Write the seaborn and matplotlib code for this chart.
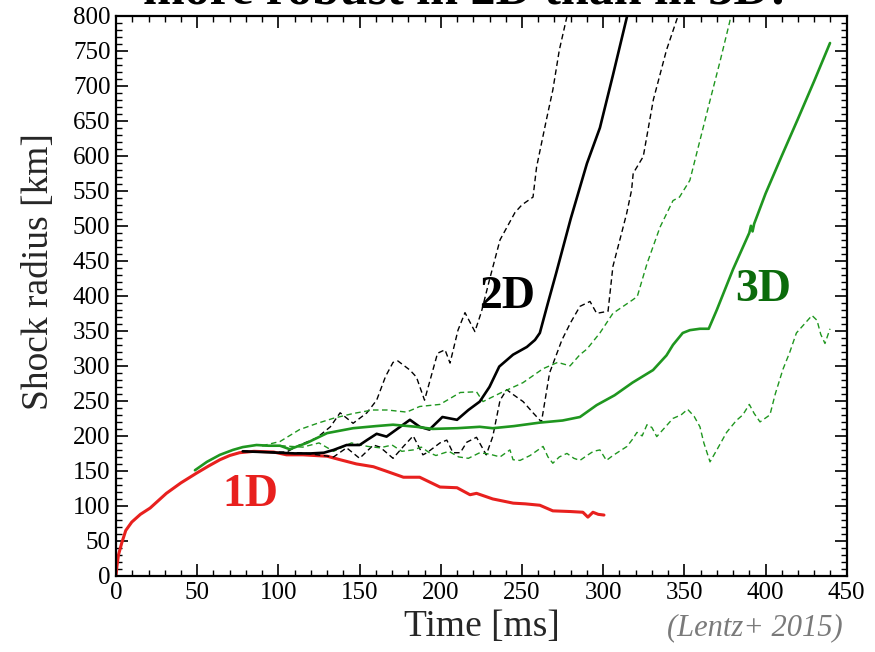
import matplotlib
matplotlib.use("Agg")
import matplotlib.pyplot as plt
from matplotlib.ticker import MultipleLocator
import seaborn as sns
import pandas as pd

# ---------------- data ----------------
t_1d = [0, 0.5, 1.5, 3.5, 6, 9.7, 15, 21, 31, 40, 49.7, 57, 64, 70, 76, 85, 97, 105, 115,
        130, 138, 148, 158.5, 166, 177, 187, 199.5, 210, 218, 222, 232, 244.6, 252, 261,
        269, 280, 287.5, 290.6, 293.7, 297, 300.5]
r_1d = [0, 13, 30, 47, 65, 77, 88, 97, 118, 133, 147, 157, 166, 172, 176, 178, 177, 173, 173,
        171, 166, 160, 156, 150, 141, 141, 127, 126, 116, 118, 110, 104, 103, 101,
        93, 92, 91, 84, 91, 88, 87]

t_2d = [78, 90, 100, 110, 120, 128, 134, 142, 150, 154.5, 160.5, 166.6, 175, 181, 187, 193,
        201, 210, 217, 224, 230, 236, 244.5, 253, 258, 261, 266, 271, 280, 290, 298, 306,
        314.5, 317]
r_2d = [178, 177, 176, 175, 175, 176, 180, 187, 187, 194, 203, 199, 213, 223, 213, 209,
        227, 223, 237, 249, 270, 299, 316, 327, 337, 347, 390, 432, 510, 589, 640, 715,
        797, 830]

t_2d_a = [78, 95, 105, 113, 123.5, 132, 138, 146, 154.5, 160.5, 166, 170.6, 173.6, 181, 185,
          190, 198, 202.6, 205.7, 210.6, 214.9, 221, 225, 230, 236.5, 245.7, 250, 256.8,
          259, 265, 269, 273, 277.7, 280]
r_2d_a = [178, 177, 177, 187, 197, 213, 233, 218, 233, 251, 285, 305, 307, 294, 284,
          251, 318, 323, 304, 351, 376, 349, 377, 423, 480, 519, 530, 541,
          584, 651, 694, 751, 799, 830]

t_2d_b = [78, 100, 113, 124, 134, 142, 150, 158.5, 162.6, 170.6, 177, 183, 189, 191.5, 199.5,
          203.7, 207.5, 212, 216, 222, 228, 232, 236.5, 240.6, 244.6, 250.7, 256.8, 262,
          267, 274.6, 280, 285.7, 291.9, 296, 303, 306, 311.4, 314.5, 317.5, 318.5, 324.7,
          330.9, 339, 346, 348]
r_2d_b = [178, 176, 176, 173, 170, 183, 168, 187, 184, 168, 185, 200, 173, 176, 190,
          194, 176, 176, 191, 198, 173, 199, 251, 266, 259, 249, 233, 220,
          290, 337, 362, 385, 392, 375, 378, 442, 490, 518, 551, 575, 599,
          680, 751, 799, 830]

t_3d = [48.6, 56, 64, 72, 78, 86.5, 94, 101, 107, 117.5, 130, 146, 160, 170.6, 185, 195,
        210, 224, 232, 245, 261, 275, 285.7, 296, 307, 318, 330.7, 339, 343, 349, 353.4,
        359.6, 365, 370, 380, 390, 391, 392, 393, 400, 410, 420, 430, 439.7]
r_3d = [151, 163, 173, 180, 184, 187, 186, 186, 181, 190, 204, 211, 214, 216, 213, 210,
        211, 213, 211, 214, 219, 222, 227, 244, 258, 276, 294, 315, 330, 347, 351,
        353, 353, 380, 438, 490, 500, 492, 503, 546, 600, 653, 707, 761]

t_3d_a = [90, 101, 113, 124, 133.6, 146, 158, 167, 179, 187, 199.5, 212, 222, 226, 236.5,
          250.6, 263, 272, 279.6, 285.7, 290, 298, 306, 318, 321, 327, 335, 343, 347,
          353.4, 359.6, 365.8, 372, 378, 380]
r_3d_a = [186, 192, 209, 218, 225, 232, 237, 237, 234, 242, 245, 262, 263, 249, 261,
          276, 296, 305, 300, 316, 324, 347, 375, 394, 399, 446, 498, 536, 541,
          565, 622, 679, 735, 792, 820]

t_3d_b = [90, 101, 115, 125, 134, 145, 155, 162.6, 170, 176, 183, 188, 193, 197, 205,
          211, 217, 224, 230, 236.5, 242.6, 244.5, 248.8, 255, 263, 266, 269, 273, 277.7, 282,
          285.7, 290, 294, 298, 302, 306, 310, 314.7, 318, 320.8, 324, 327, 330, 333, 338,
          343, 348, 352, 356, 359.6, 362, 365.8, 370, 376, 382, 386, 390, 393, 396.6, 402.7,
          406, 410.7, 415, 419, 424, 428.6, 431.7, 434, 436.6, 439.7]
r_3d_b = [186, 186, 184, 190, 178, 190, 185, 183, 187, 178, 180, 184, 176, 172, 178,
          170, 168, 176, 174, 170, 180, 166, 165, 172, 185, 170, 161, 170, 175, 168,
          165, 172, 178, 180, 165, 172, 178, 185, 195, 205, 200, 216, 212, 199, 212,
          225, 230, 238, 228, 213, 190, 163, 180, 205, 222, 230, 245, 232, 220, 230,
          260, 295, 320, 347, 360, 372, 365, 345, 332, 353]

x_ticks = list(range(0, 451, 50))
y_ticks = list(range(0, 801, 50))

# ---------------- style ----------------
sns.set_theme(style="ticks")
plt.rcParams["font.family"] = ["Liberation Serif", "DejaVu Serif"]
plt.rcParams["axes.unicode_minus"] = False

RED = "#e8201e"
GREEN = "#1f961f"
DKGREEN = "#0b6b0b"

fig = plt.figure(figsize=(8.75, 6.52), dpi=100)
ax = fig.add_axes([0.1326, 0.1166, 0.8351, 0.8593])

dash = (0, (4, 2.5))

def draw(t, r, color, lw, ls="-", z=2):
    df = pd.DataFrame({"t": t, "r": r})
    sns.lineplot(data=df, x="t", y="r", ax=ax, color=color, linewidth=lw,
                 linestyle=ls, errorbar=None, estimator=None, sort=False, zorder=z)

draw(t_1d, r_1d, RED, 2.2, "-", 2)
draw(t_2d_a, r_2d_a, "black", 1.0, dash, 3)
draw(t_2d_b, r_2d_b, "black", 1.0, dash, 3)
draw(t_3d_a, r_3d_a, GREEN, 1.0, dash, 3)
draw(t_3d_b, r_3d_b, GREEN, 1.0, dash, 3)
draw(t_2d, r_2d, "black", 1.9, "-", 4)
draw(t_3d, r_3d, GREEN, 1.9, "-", 4)

ax.set_xlim(0, 450)
ax.set_ylim(0, 800)
ax.set_xticks(x_ticks)
ax.set_yticks(y_ticks)
ax.xaxis.set_minor_locator(MultipleLocator(10))
ax.yaxis.set_minor_locator(MultipleLocator(10))
ax.tick_params(which="both", direction="in", top=True, right=True, colors="black",
               labelsize=18)
ax.tick_params(which="major", length=8.5, width=1.2, pad=4)
ax.tick_params(which="minor", length=4.3, width=1.0)
for s in ax.spines.values():
    s.set_linewidth(1.6)
    s.set_color("black")
    s.set_zorder(10)

ax.set_xlabel("Time [ms]", fontsize=27)
ax.set_ylabel("Shock radius [km]", fontsize=27)
ax.xaxis.set_label_coords(0.5, -0.06)
ax.yaxis.set_label_coords(-0.082, 0.543)

ax.text(82.5, 115.7, "1D", color=RED, fontsize=33, fontweight="bold", ha="center", va="center")
ax.text(240.8, 398.6, "2D", color="black", fontsize=33, fontweight="bold", ha="center", va="center")
ax.text(398.4, 408.6, "3D", color=DKGREEN, fontsize=33, fontweight="bold", ha="center", va="center")

fig.text(0.863, 1 - 628 / 652, "(Lentz+ 2015)", color="#7a7a7a", fontsize=22,
         fontstyle="italic", ha="center", va="center")
fig.text(0.531, 1 - 4 / 652, "more robust in 2D than in 3D!", color="black", fontsize=36,
         fontweight="bold", ha="center", va="baseline")

fig.savefig("out.png", dpi=100)
